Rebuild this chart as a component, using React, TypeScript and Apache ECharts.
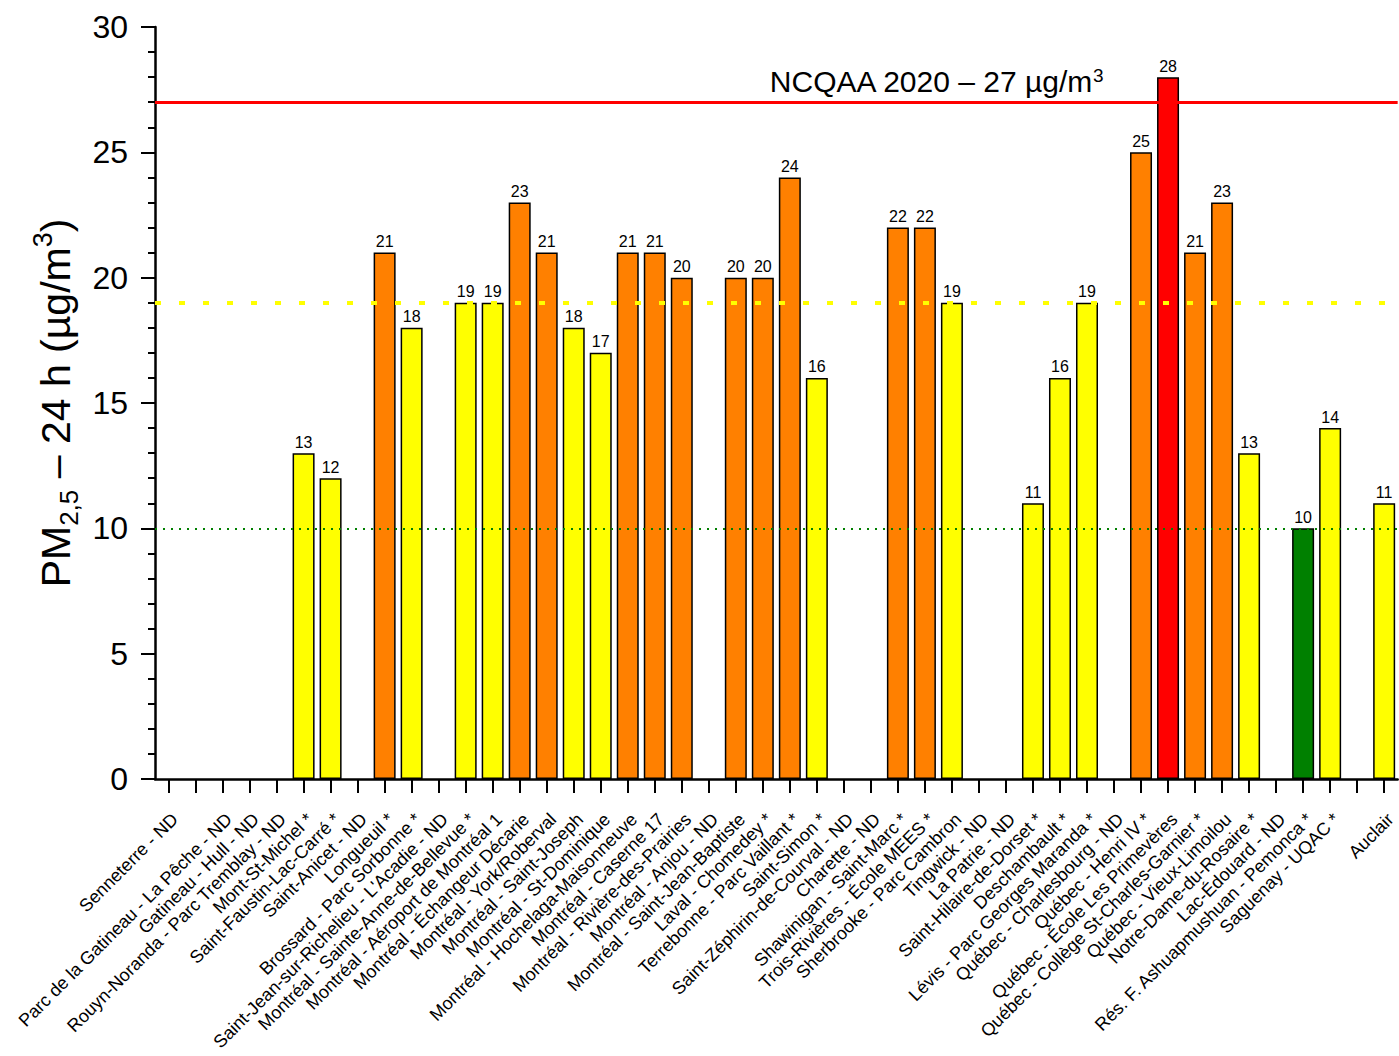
import React, { useEffect, useRef } from "react";
import * as echarts from "echarts";

// Monitoring stations (blank entries are spacer slots on the axis)
const stations: string[] = [
  "Senneterre - ND",
  "",
  "Parc de la Gatineau - La Pêche - ND",
  "Gatineau - Hull - ND",
  "Rouyn-Noranda - Parc Tremblay - ND",
  "Mont-St-Michel *",
  "Saint-Faustin-Lac-Carré *",
  "Saint-Anicet - ND",
  "Longueuil *",
  "Brossard - Parc Sorbonne *",
  "Saint-Jean-sur-Richelieu - L'Acadie - ND",
  "Montréal - Sainte-Anne-de-Bellevue *",
  "Montréal - Aéroport de Montréal 1",
  "Montréal - Échangeur Décarie",
  "Montréal - York/Roberval",
  "Montréal - Saint-Joseph",
  "Montréal - St-Dominique",
  "Montréal - Hochelaga-Maisonneuve",
  "Montréal - Caserne 17",
  "Montréal - Rivière-des-Prairies",
  "Montréal - Anjou - ND",
  "Montréal - Saint-Jean-Baptiste",
  "Laval - Chomedey *",
  "Terrebonne - Parc Vaillant *",
  "Saint-Simon *",
  "Saint-Zéphirin-de-Courval - ND",
  "Charette - ND",
  "Shawinigan - Saint-Marc *",
  "Trois-Rivières - École MEES *",
  "Sherbrooke - Parc Cambron",
  "Tingwick - ND",
  "La Patrie - ND",
  "Saint-Hilaire-de-Dorset *",
  "Deschambault *",
  "Lévis - Parc Georges Maranda *",
  "Québec - Charlesbourg - ND",
  "Québec - Henri IV *",
  "Québec - École Les Primevères",
  "Québec - Collège St-Charles-Garnier *",
  "Québec - Vieux-Limoilou",
  "Notre-Dame-du-Rosaire *",
  "Lac-Édouard - ND",
  "Rés. F. Ashuapmushuan - Pemonca *",
  "Saguenay - UQAC *",
  "",
  "Auclair",
];

// PM2.5 24 h values (µg/m³); null = no data
const pm25: (number | null)[] = [
  null, null, null, null, null, 13, 12, null, 21, 18,
  null, 19, 19, 23, 21, 18, 17, 21, 21, 20,
  null, 20, 20, 24, 16, null, null, 22, 22, 19,
  null, null, 11, 16, 19, null, 25, 28, 21, 23,
  13, null, 10, 14, null, 11,
];

// Reference levels
const ncqaaLimit = 27;
const upperThreshold = 19;
const lowerThreshold = 10;

// Axis range
const yMin = 0;
const yMax = 30;
const yStep = 5;

const FONT = "'Liberation Sans', Arial, Helvetica, sans-serif";

function barColor(v: number): string {
  if (v > ncqaaLimit) return "#FF0000";
  if (v > upperThreshold) return "#FF8000";
  if (v > lowerThreshold) return "#FFFF00";
  return "#008000";
}

export default function App() {
  const ref = useRef<HTMLDivElement>(null);

  useEffect(() => {
    if (!ref.current) return;
    const chart = echarts.init(ref.current, undefined, { renderer: "svg" });

    const data = pm25.map((v) =>
      v == null ? "-" : { value: v, itemStyle: { color: barColor(v) } }
    );

    chart.setOption({
      animation: false,
      backgroundColor: "#ffffff",
      textStyle: { fontFamily: FONT },
      grid: { left: 155, right: 1, top: 27, bottom: 277, containLabel: false },
      xAxis: {
        type: "category",
        data: stations,
        boundaryGap: true,
        axisLine: { show: true, lineStyle: { color: "#000", width: 2.5 } },
        axisTick: {
          show: true,
          alignWithLabel: true,
          interval: 0,
          length: 14,
          lineStyle: { color: "#000", width: 2 },
        },
        axisLabel: {
          interval: 0,
          rotate: 45,
          margin: 31,
          verticalAlign: "top",
          fontSize: 18,
          color: "#000",
          fontFamily: FONT,
        },
        splitLine: { show: false },
      },
      yAxis: {
        type: "value",
        min: yMin,
        max: yMax,
        interval: yStep,
        name: "{t|PM}{sub|2,5}{t| – 24 h (µg/m}{sup|3}{t|)}",
        nameLocation: "middle",
        nameRotate: 90,
        nameGap: 72,
        nameTextStyle: {
          color: "#000",
          fontFamily: FONT,
          rich: {
            t: { fontSize: 41, lineHeight: 52, color: "#000", fontFamily: FONT },
            sub: { fontSize: 26, lineHeight: 26, verticalAlign: "bottom", color: "#000", fontFamily: FONT },
            sup: { fontSize: 27, lineHeight: 27, verticalAlign: "top", color: "#000", fontFamily: FONT },
          },
        },
        axisLine: { show: true, lineStyle: { color: "#000", width: 2.5 } },
        axisTick: { show: true, length: 14, lineStyle: { color: "#000", width: 2 } },
        minorTick: { show: true, splitNumber: 5, length: 7, lineStyle: { color: "#000", width: 2 } },
        axisLabel: { fontSize: 32, color: "#000", margin: 27, fontFamily: FONT },
        splitLine: { show: false },
        minorSplitLine: { show: false },
      },
      series: [
        {
          type: "bar",
          data,
          barWidth: 22,
          itemStyle: { borderColor: "#000", borderWidth: 1.5 },
          label: {
            show: true,
            position: "top",
            distance: 3,
            fontSize: 16,
            color: "#000",
            fontFamily: FONT,
          },
          markLine: {
            silent: true,
            symbol: "none",
            precision: 0,
            data: [
              {
                yAxis: ncqaaLimit,
                lineStyle: { color: "#FF0000", width: 3, type: "solid" },
                label: {
                  show: true,
                  position: "insideMiddleTop",
                  distance: 6,
                  padding: [0, 0, 0, 320],
                  formatter: "{t|NCQAA 2020 – 27 µg/m}{s|3}",
                  rich: {
                    t: { fontSize: 30, color: "#000", fontFamily: FONT },
                    s: { fontSize: 19, verticalAlign: "top", color: "#000", fontFamily: FONT },
                  },
                },
              },
              {
                yAxis: upperThreshold,
                lineStyle: { color: "#FFFF00", width: 4, type: [6, 18] },
                label: { show: false },
              },
              {
                yAxis: lowerThreshold,
                lineStyle: { color: "#008000", width: 2, type: [2, 6] },
                label: { show: false },
              },
            ],
          },
        },
      ],
    });

    return () => chart.dispose();
  }, []);

  return (
    <div
      ref={ref}
      style={{ position: "fixed", left: 0, top: 0, width: 1399, height: 1056, background: "#fff" }}
    />
  );
}
